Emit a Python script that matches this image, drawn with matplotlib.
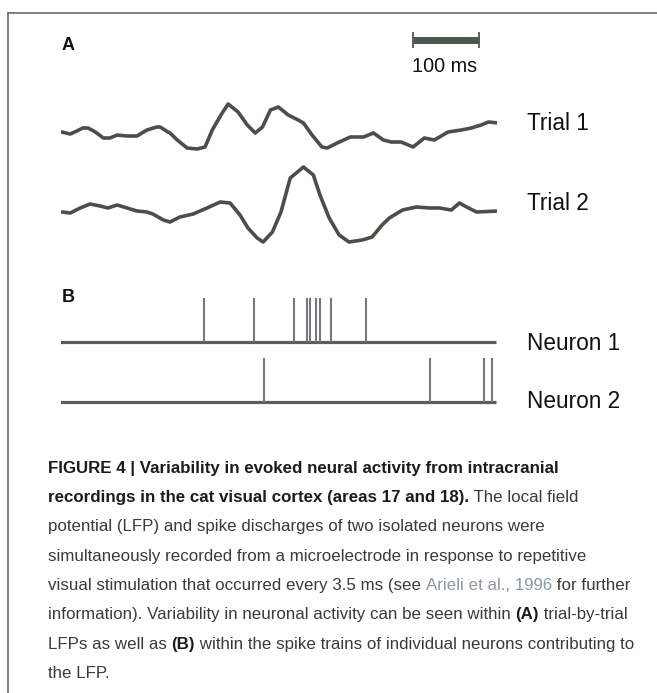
import numpy as np
import matplotlib.pyplot as plt

# LFP traces, time in ms, amplitude in arbitrary units
t1 = [1, 14, 24, 33, 41, 52, 64, 74, 85, 100, 115, 130, 145, 150, 162, 165, 176,
      191, 206, 218, 229, 244, 253, 268, 282, 294, 305, 317, 329, 344, 359, 367,
      380, 395, 403, 418, 438, 458, 473, 488, 500, 515, 533, 550, 565, 586, 606,
      621, 636, 647, 662]
trial1 = [0, -2, 1, 4, 4, 0, -6, -6, -3, -4, -4, 2, 5, 5, 0, -1, -8, -16, -17,
          -15, 2, 19, 28, 20, 7, -1, 5, 22, 25, 17, 12, 9, -3, -15, -16, -11, -5,
          -5, -1, -8, -10, -10, -15, -6, -8, 0, 2, 4, 7, 10, 9]
t2 = [2, 14, 29, 44, 59, 71, 85, 100, 115, 130, 139, 155, 165, 180, 200, 221,
      241, 256, 271, 283, 297, 306, 320, 333, 347, 367, 382, 392, 406, 421, 436,
      456, 471, 486, 497, 517, 538, 558, 573, 591, 603, 614, 629, 662]
trial2 = [0, -1, 4, 8, 6, 4, 7, 4, 1, 0, -2, -8, -10, -5, -2, 4, 10, 9, -3, -16,
          -26, -30, -20, 0, 34, 45, 37, 17, -6, -23, -30, -28, -25, -13, -6, 2, 5,
          4, 4, 2, 9, 5, 0, 1]

# spike times (ms)
neuron1 = [217, 292, 352, 373, 377, 386, 392, 408, 461]
neuron2 = [308, 558, 641, 653]

caption = [
    [("FIGURE 4 | Variability in evoked neural activity from intracranial", "b")],
    [("recordings in the cat visual cortex (areas 17 and 18).", "b"), (" The local field", "n")],
    [("potential (LFP) and spike discharges of two isolated neurons were", "n")],
    [("simultaneously recorded from a microelectrode in response to repetitive", "n")],
    [("visual stimulation that occurred every 3.5 ms (see ", "n"), ("Arieli et al., 1996", "c"),
     (" for further", "n")],
    [("information). Variability in neuronal activity can be seen within ", "n"), ("(A)", "b"),
     (" trial-by-trial", "n")],
    [("LFPs as well as ", "n"), ("(B)", "b"),
     (" within the spike trains of individual neurons contributing to", "n")],
    [("the LFP.", "n")],
]

W, H = 657, 693
fig = plt.figure(figsize=(W / 100, H / 100), dpi=100)
sans = ['Liberation Sans', 'DejaVu Sans']

# background axes in pixel units for frame and text
bg = fig.add_axes([0, 0, 1, 1])
bg.set_xlim(0, W)
bg.set_ylim(H, 0)
bg.axis('off')
bg.plot([8, W], [13, 13], color='#5e5e5e', lw=1.1)
bg.plot([8, 8], [13, H], color='#5e5e5e', lw=1.1)


def fig_rect(x0, x1, y0, y1):
    return [x0 / W, 1 - y1 / H, (x1 - x0) / W, (y1 - y0) / H]


trace_col = '#4a4f48'

# panel A
axA = fig.add_axes(fig_rect(61, 497, 95, 250))
axA.set_xlim(0, 660)
axA.set_ylim(-38, 117)
axA.axis('off')
axA.plot(t1, np.array(trial1) + 80, color=trace_col, lw=2.6, solid_joinstyle='round',
         solid_capstyle='round')
axA.plot(t2, trial2, color=trace_col, lw=2.6, solid_joinstyle='round',
         solid_capstyle='round')
# 100 ms scale bar
axA.plot([533, 633], [172, 172], color='#4f554f', lw=5, clip_on=False, solid_capstyle='butt')
axA.plot([533, 533], [165, 179], color='#4f554f', lw=1.3, clip_on=False)
axA.plot([633, 633], [165, 179], color='#4f554f', lw=1.3, clip_on=False)

# panel B
axB = fig.add_axes(fig_rect(61, 497, 290, 410))
axB.set_xlim(0, 660)
axB.set_ylim(0, 120)
axB.axis('off')
for base, spikes in [(68, neuron1), (8, neuron2)]:
    axB.plot([-4, 658], [base, base], color='#5c5c5c', lw=2.3, solid_capstyle='butt')
    axB.vlines(spikes, base, base + 44.5, color='#777780', lw=1.5)

# labels
bg.text(62, 45, "A", fontsize=13, fontweight='bold', family=sans, va='center', ha='left',
        color='#111111')
bg.text(62, 297, "B", fontsize=13, fontweight='bold', family=sans, va='center', ha='left',
        color='#111111')
bg.text(445, 67, "100 ms", fontsize=14.3, family=sans, va='center', ha='center', color='#111111')
for lab, y in [("Trial 1", 123), ("Trial 2", 203), ("Neuron 1", 343), ("Neuron 2", 402)]:
    bg.text(527, y, lab, fontsize=16.3, family=sans, va='center', ha='left', color='#111111')

# caption with mixed styles
renderer = fig.canvas.get_renderer()
styles = {"b": dict(fontweight='bold', color='#1c1c1c'),
          "n": dict(fontweight='normal', color='#3a3a3a'),
          "c": dict(fontweight='normal', color='#8e98a3')}
y = 468
for line in caption:
    x = 48
    for seg, st in line:
        txt = bg.text(x, y, seg, fontsize=12.2, family=sans, va='center', ha='left',
                      **styles[st])
        x += txt.get_window_extent(renderer).width
    y += 29.4

fig.savefig("out.png", dpi=100)
